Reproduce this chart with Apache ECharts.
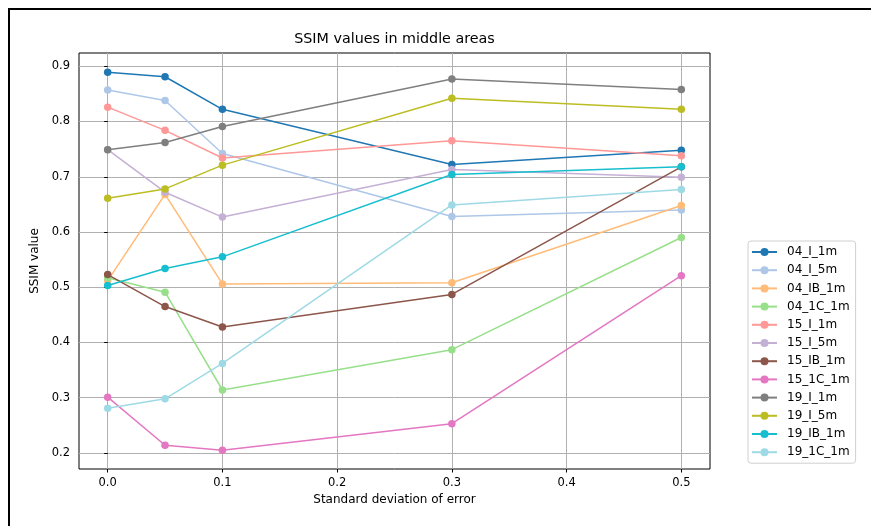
<!DOCTYPE html>
<html>
<head>
<meta charset="utf-8">
<script src="https://cdn.jsdelivr.net/npm/echarts@6/dist/echarts.min.js"></script>
<style>html,body{margin:0;padding:0;background:#fff}#c{width:871px;height:526px}</style>
</head>
<body>
<div id="c"></div>
<script>
const xValues = [0, 0.05, 0.1, 0.3, 0.5];
const seriesNames = ['04_I_1m','04_I_5m','04_IB_1m','04_1C_1m','15_I_1m','15_I_5m','15_IB_1m','15_1C_1m','19_I_1m','19_I_5m','19_IB_1m','19_1C_1m'];
const colors = ['#1f77b4','#aec7e8','#ffbb78','#98df8a','#ff9896','#c5b0d5','#8c564b','#e377c2','#7f7f7f','#bcbd22','#17becf','#9edae5'];
const s04_I_1m  = [0.889, 0.881, 0.822, 0.722, 0.748];
const s04_I_5m  = [0.857, 0.838, 0.742, 0.628, 0.640];
const s04_IB_1m = [0.512, 0.668, 0.506, 0.508, 0.648];
const s04_1C_1m = [0.517, 0.491, 0.314, 0.387, 0.590];
const s15_I_1m  = [0.826, 0.784, 0.734, 0.765, 0.738];
const s15_I_5m  = [0.749, 0.672, 0.627, 0.713, 0.699];
const s15_IB_1m = [0.523, 0.465, 0.428, 0.487, 0.718];
const s15_1C_1m = [0.301, 0.214, 0.205, 0.253, 0.521];
const s19_I_1m  = [0.749, 0.762, 0.791, 0.877, 0.858];
const s19_I_5m  = [0.661, 0.678, 0.721, 0.842, 0.822];
const s19_IB_1m = [0.503, 0.534, 0.555, 0.704, 0.718];
const s19_1C_1m = [0.281, 0.298, 0.362, 0.649, 0.677];
const allValues = [s04_I_1m,s04_I_5m,s04_IB_1m,s04_1C_1m,s15_I_1m,s15_I_5m,s15_IB_1m,s15_1C_1m,s19_I_1m,s19_I_5m,s19_IB_1m,s19_1C_1m];
const xTicks = [0, 0.1, 0.2, 0.3, 0.4, 0.5];
const yTicks = [0.2, 0.3, 0.4, 0.5, 0.6, 0.7, 0.8, 0.9];

const font = 'DejaVu Sans';
const chart = echarts.init(document.getElementById('c'), null, {renderer: 'canvas'});
const series = seriesNames.map((name, i) => ({
  name: name,
  type: 'line',
  data: xValues.map((x, j) => [x, allValues[i][j]]),
  symbol: 'circle',
  symbolSize: 7.5,
  color: colors[i],
  lineStyle: {width: 1.5, color: colors[i]},
  itemStyle: {color: colors[i]},
  emphasis: {disabled: true},
  z: 2 + i
}));

chart.setOption({
  animation: false,
  backgroundColor: '#fff',
  textStyle: {fontFamily: font},
  title: {
    text: 'SSIM values in middle areas',
    left: 394.5, textAlign: 'center',
    top: 32, padding: 0,
    textStyle: {fontFamily: font, fontSize: 14.3, fontWeight: 'normal', color: '#000'}
  },
  graphic: [{
    type: 'rect', shape: {x: 9, y: 9, width: 1000, height: 1000},
    style: {fill: 'none', stroke: '#000', lineWidth: 2}, z: 100, silent: true
  }],
  grid: {left: 79, top: 53, right: 161, bottom: 57, show: true, borderColor: '#000', borderWidth: 1, backgroundColor: 'transparent'},
  legend: {
    orient: 'vertical', left: 748, top: 241,
    padding: [4, 6, 4, 3],
    itemWidth: 25, itemHeight: 10, itemGap: 4.2,
    backgroundColor: '#fff', borderColor: '#d0d0d0', borderWidth: 1, borderRadius: 3,
    textStyle: {fontFamily: font, fontSize: 12, color: '#000', lineHeight: 14, padding: [0, 0, 0, 5]},
    data: seriesNames
  },
  xAxis: {
    type: 'value', min: -0.025, max: 0.525,
    name: 'Standard deviation of error', nameLocation: 'middle', nameGap: 24,
    nameTextStyle: {fontFamily: font, fontSize: 12, color: '#000'},
    axisLine: {show: false},
    axisTick: {show: true, length: 3.5, lineStyle: {color: '#000'}, customValues: xTicks},
    axisLabel: {fontFamily: font, fontSize: 11.5, color: '#000', margin: 8, customValues: xTicks, formatter: v => v.toFixed(1)},
    splitLine: {show: true, lineStyle: {color: '#b0b0b0', width: 1}}
  },
  yAxis: {
    type: 'value', min: 0.171, max: 0.924,
    name: 'SSIM value', nameLocation: 'middle', nameGap: 34,
    nameTextStyle: {fontFamily: font, fontSize: 12, color: '#000'},
    axisLine: {show: false},
    axisTick: {show: true, length: 3.5, lineStyle: {color: '#000'}, customValues: yTicks},
    axisLabel: {fontFamily: font, fontSize: 11.5, color: '#000', margin: 9, customValues: yTicks, formatter: v => v.toFixed(1)},
    splitLine: {show: true, lineStyle: {color: '#b0b0b0', width: 1}}
  },
  series: series
});
</script>
</body>
</html>
